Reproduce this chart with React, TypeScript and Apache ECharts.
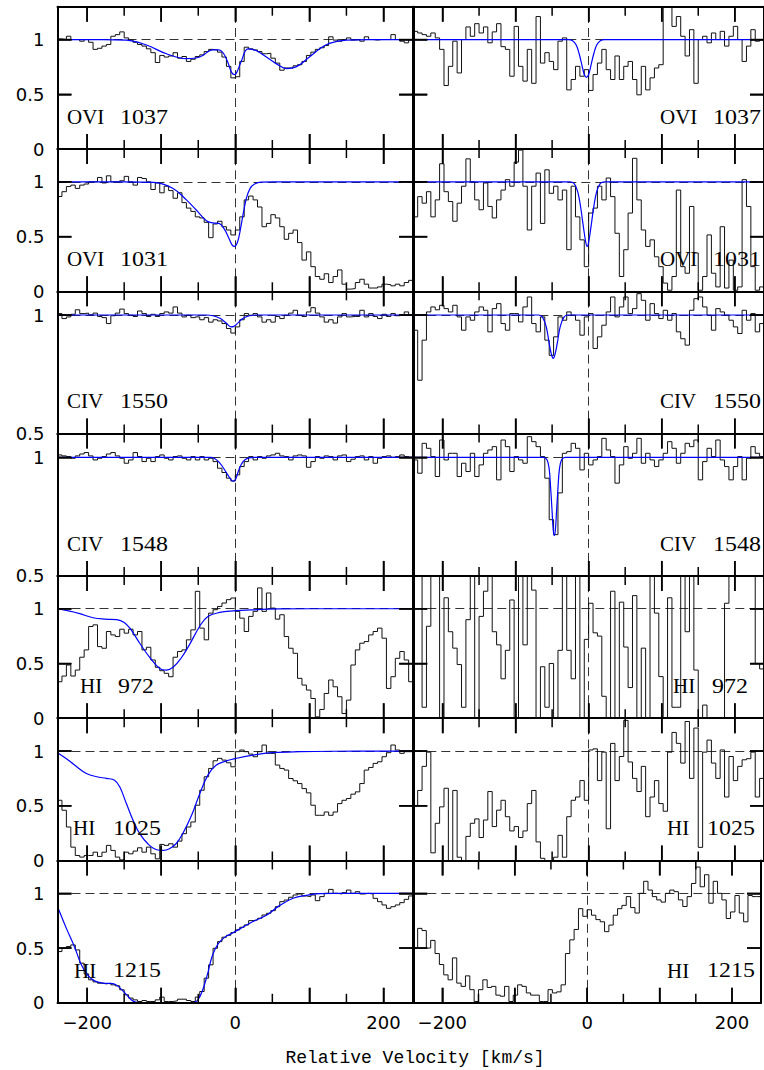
import React, { useEffect, useRef } from 'react';
import * as echarts from 'echarts';

// ---------- data (normalised flux, 6 km/s bins starting at -240 km/s) ----------
const BIN_START = -240;
const BIN_WIDTH = 6;
const X_MIN = -240;
const X_MAX = 240;
const X_TICKS = [-200, -150, -100, -50, 0, 50, 100, 150, 200];
const Y_TICKS = [0.5, 1];

const ovi1037Left = [1.006,1.0,1.03,1.0,1.0,0.985,1.0,0.975,0.91,0.92,0.94,0.955,1.03,1.045,1.07,1.015,0.995,0.975,0.955,0.94,0.915,0.88,0.79,0.855,0.84,0.85,0.88,0.83,0.845,0.80,0.82,0.845,0.86,0.89,0.91,0.905,0.885,0.84,0.755,0.65,0.66,0.80,0.93,0.915,0.905,0.89,0.87,0.875,0.83,0.785,0.72,0.74,0.74,0.76,0.77,0.80,0.855,0.885,0.91,0.925,0.945,1.025,0.995,0.985,1.0,1.015,0.995,1.0,0.985,1.025,1.0,0.995,1.0,1.0,1.0,1.045,1.0,0.985,0.97,1.0];
const ovi1037Right = [1.075,1.06,1.045,1.03,1.06,1.015,0.91,0.58,0.755,0.985,0.695,1.0,1.115,1.03,1.145,1.06,1.115,0.97,1.07,1.145,0.935,0.91,0.665,1.12,0.755,0.62,0.91,0.60,1.21,0.785,0.88,0.80,0.725,0.985,1.015,0.54,0.635,0.755,0.665,0.725,0.535,0.68,0.785,0.91,0.725,0.635,0.85,0.635,0.755,0.80,0.635,0.495,0.755,0.54,0.65,0.74,0.77,1.4,1.45,1.12,1.21,1.03,0.85,1.09,0.60,1.0,1.03,0.97,1.06,1.0,1.075,0.94,1.03,1.12,1.0,0.80,0.94,1.09,0.985,1.0];
const ovi1031Left = [0.866,0.91,0.957,0.97,0.94,0.97,0.98,1.0,1.0,1.04,0.99,1.055,1.0,1.0,1.01,1.05,1.0,0.97,1.04,1.03,1.0,0.93,0.99,0.9,0.96,0.92,0.85,0.9,0.81,0.76,0.73,0.68,0.67,0.63,0.49,0.615,0.64,0.59,0.56,0.515,0.56,0.68,0.835,0.87,0.835,0.77,0.59,0.62,0.70,0.67,0.59,0.475,0.53,0.56,0.445,0.285,0.36,0.225,0.135,0.11,0.16,0.08,0.135,0.195,0.065,0.02,0.025,0.08,0.11,0.065,0.03,0.03,0.04,0.065,0.06,0.05,0.065,0.05,0.08,0.10];
const ovi1031Right = [0.68,0.865,0.805,0.91,0.68,0.835,1.165,0.91,0.82,0.64,0.805,0.96,1.21,1.0,0.835,0.745,0.99,0.775,0.67,0.835,0.925,1.02,0.96,1.18,1.29,0.96,0.56,0.96,1.08,0.62,1.11,0.895,0.96,0.835,0.925,0.38,0.96,0.68,0.47,0.225,0.715,0.76,0.96,0.835,1.035,0.865,0.53,0.135,0.38,0.715,1.215,0.835,0.56,0.41,0.47,0.315,0.225,0.075,0.01,0.135,0.925,0.225,0.165,0.775,0.35,0.01,0.135,0.515,0.165,0.04,0.59,0.03,0.285,0.01,0.04,1.02,0.775,0.225,0.01,0.04];
const civ1550Left = [1.006,0.985,0.992,1.003,1.022,1.006,1.008,1.001,1.008,0.994,0.989,0.964,0.997,1.008,1.025,1.006,0.999,0.994,1.017,1.006,0.994,1.003,0.994,1.006,1.013,1.008,1.034,1.008,0.992,0.999,0.989,0.992,0.98,0.989,0.97,0.98,0.975,0.964,0.943,0.924,0.95,0.98,1.006,0.999,1.006,0.992,0.97,0.98,0.97,0.994,0.985,0.999,1.008,1.02,0.999,0.994,1.013,1.031,1.008,0.992,0.97,0.98,0.966,0.992,1.006,0.992,0.994,0.994,1.02,0.992,1.006,0.994,0.985,1.003,0.994,1.006,0.997,1.001,1.013,0.999];
const civ1550Right = [0.936,0.725,0.894,1.013,1.034,1.022,1.041,1.027,1.013,1.041,0.992,0.936,0.992,0.978,1.013,1.034,1.02,0.929,1.027,1.048,0.964,0.936,1.006,1.006,0.971,1.034,1.076,0.964,0.929,0.992,0.894,0.83,0.908,0.992,0.978,1.013,0.999,0.978,0.915,0.992,1.006,0.859,0.908,0.957,1.013,1.076,0.992,1.034,1.076,1.006,1.027,1.09,1.062,0.978,1.048,1.006,0.985,1.02,0.978,1.006,0.929,0.90,0.873,1.02,1.069,1.076,1.034,0.999,0.936,1.027,1.013,0.999,0.978,0.95,0.922,1.02,0.978,1.006,0.929,0.964];
const civ1548Left = [1.01,1.006,1.003,0.996,1.006,1.014,1.02,1.006,0.989,0.996,1.003,1.014,1.02,1.006,0.996,0.975,0.989,1.02,1.003,0.982,0.996,0.982,1.003,1.01,0.996,0.989,1.003,1.006,0.996,0.989,1.003,0.989,1.003,0.989,0.996,0.982,0.954,0.936,0.912,0.90,0.926,0.961,0.982,1.003,0.989,1.003,0.996,1.006,1.01,1.017,1.006,1.003,0.989,1.006,1.01,1.006,0.958,0.982,1.003,0.996,1.006,1.003,0.989,1.006,1.01,0.982,0.992,1.003,1.006,0.989,1.003,0.975,0.996,1.003,1.006,1.0,1.003,1.01,1.003,1.0];
const civ1548Right = [0.989,0.933,1.059,1.038,1.003,0.919,1.073,0.989,1.017,1.017,0.919,0.975,0.94,1.017,0.919,0.968,1.017,1.031,1.045,0.905,1.073,1.045,0.94,1.003,0.989,0.975,1.087,1.066,1.045,1.003,0.912,0.737,0.674,0.85,1.017,1.024,1.059,1.038,0.947,1.017,0.968,0.989,1.003,1.08,1.031,1.003,0.891,0.968,1.045,0.996,1.017,1.08,0.975,1.017,0.989,0.961,0.989,1.017,1.066,1.038,0.975,1.017,1.059,1.045,1.073,0.905,0.982,1.038,1.003,1.073,0.989,0.961,0.905,0.961,1.003,0.905,0.996,1.045,1.017,1.003];
const hi972Left = [0.333,0.385,0.486,0.385,0.44,0.557,0.624,0.838,0.853,0.654,0.639,0.792,0.761,0.746,0.813,0.777,0.813,0.761,0.792,0.624,0.648,0.532,0.465,0.434,0.41,0.379,0.557,0.609,0.624,0.716,0.807,1.159,0.823,0.716,0.96,0.991,1.021,1.052,1.083,1.098,0.976,0.914,0.792,0.93,0.976,1.19,0.976,1.144,1.006,0.905,0.945,0.746,0.639,0.593,0.364,0.303,0.257,0.18,0.012,0.08,0.226,0.349,0.287,0.196,0.043,0.165,0.486,0.624,0.685,0.70,0.761,0.792,0.823,0.731,0.272,0.379,0.547,0.609,0.532,0.333];
const hi972Right = [1.4,1.4,0.10,0.84,1.4,1.4,0.0,1.10,0.79,0.64,0.49,0.10,0.90,1.4,0.0,0.93,1.16,1.4,0.79,0.67,0.36,0.62,1.08,0.0,1.4,0.67,1.4,1.17,0.0,0.47,0.10,0.50,0.0,0.62,1.4,0.62,0.36,1.4,0.0,0.72,1.05,0.78,0.75,0.2,0.0,1.16,0.0,1.06,0.65,0.28,1.12,0.0,0.64,0.0,1.4,0.96,0.38,0.0,1.1,0.10,0.10,1.3,0.79,1.4,0.44,0.0,0.12,0.0,0.0,0.0,0.0,1.05,1.4,1.4,1.4,1.38,1.4,1.4,0.5,0.45];
const hi1025Left = [0.55,0.459,0.306,0.122,0.046,0.031,0.046,0.046,0.076,0.037,0.076,0.138,0.092,0.031,0.006,0.076,0.061,0.086,0.116,0.076,0.122,0.061,0.015,0.147,0.138,0.153,0.122,0.177,0.245,0.306,0.352,0.505,0.642,0.765,0.841,0.911,0.933,0.917,0.893,0.856,0.994,1.009,0.994,0.972,0.948,0.994,1.055,0.979,0.979,0.872,0.841,0.826,0.749,0.728,0.703,0.657,0.618,0.505,0.413,0.413,0.443,0.413,0.443,0.52,0.55,0.566,0.606,0.627,0.703,0.826,0.85,0.887,0.902,0.948,0.985,1.055,1.009,0.979,0.994,0.994];
const hi1025Right = [0.50,0.64,0.86,0.99,0.07,0.34,0.49,0.66,0.0,0.64,0.03,0.0,0.22,0.34,0.38,0.21,0.37,0.63,0.31,0.46,0.55,0.40,0.27,0.31,0.21,0.27,0.52,0.64,0.17,0.02,0.0,0.0,0.03,0.23,0.03,0.40,0.55,0.58,0.73,0.55,1.01,1.02,0.73,0.99,0.29,1.07,0.73,0.95,1.28,0.90,0.75,0.63,0.86,0.40,0.58,0.73,0.52,0.45,0.99,1.17,1.07,0.89,1.27,0.75,1.21,0.12,0.99,1.10,0.89,0.75,1.01,0.58,0.95,0.73,0.86,0.92,0.93,0.99,0.58,0.75];
const hi1215Left = [0.468,0.498,0.514,0.529,0.483,0.362,0.264,0.21,0.191,0.179,0.173,0.179,0.164,0.155,0.119,0.073,0.043,0.027,0.012,0.021,0.012,0.012,0.027,0.052,0.012,0.012,0.018,0.033,0.033,0.021,0.012,0.052,0.103,0.225,0.347,0.498,0.559,0.599,0.617,0.641,0.666,0.69,0.711,0.751,0.757,0.772,0.802,0.818,0.842,0.878,0.924,0.939,0.964,0.985,0.994,0.976,0.97,0.985,0.933,0.97,1.0,1.036,1.0,0.994,1.006,1.03,1.0,1.015,0.994,1.0,0.994,0.954,0.924,0.894,0.863,0.878,0.894,0.915,0.945,0.976];
const hi1215Right = [0.50,0.68,0.66,0.50,0.57,0.45,0.35,0.255,0.21,0.41,0.18,0.15,0.246,0.12,0.012,0.12,0.21,0.14,0.15,0.07,0.06,0.15,0.012,0.07,0.164,0.15,0.09,0.07,0.07,0.012,0.012,0.12,0.09,0.10,0.164,0.45,0.575,0.67,0.86,0.79,0.85,0.80,0.76,0.74,0.65,0.71,0.80,0.86,0.89,0.97,0.87,0.82,1.0,1.11,1.03,0.97,0.94,0.92,1.0,1.03,1.015,0.94,0.88,0.97,1.09,1.24,1.06,1.17,0.91,1.11,1.0,0.94,0.77,0.83,0.98,0.82,0.74,0.98,0.97,0.97];

// ---------- model fits [velocity, flux] ----------
const fitOvi1037Left = [[-240,1],[-180,1],[-147,0.995],[-120,0.95],[-93,0.87],[-66,0.825],[-48,0.84],[-30,0.905],[-22,0.905],[-16,0.875],[-10,0.79],[-5,0.7],[-1,0.68],[2,0.7],[8,0.8],[17,0.915],[28,0.9],[42,0.84],[55,0.78],[69,0.735],[82,0.75],[100,0.84],[114,0.915],[127,0.965],[150,0.995],[180,1],[240,1]];
const fitOvi1037Right = [[-240,1],[-28,1],[-22,0.99],[-17,0.95],[-13,0.87],[-9,0.76],[-6,0.68],[-3,0.655],[0,0.68],[3,0.76],[7,0.87],[11,0.95],[16,0.99],[22,1],[240,1]];
const fitOvi1031Left = [[-240,1],[-150,1],[-110,0.995],[-84,0.94],[-66,0.835],[-53,0.745],[-39,0.645],[-30,0.625],[-22,0.62],[-15,0.57],[-9,0.49],[-4,0.42],[-1,0.41],[3,0.45],[7,0.57],[11,0.72],[15,0.85],[20,0.94],[26,0.98],[35,0.998],[51,1],[240,1]];
const fitOvi1031Right = [[-240,1],[-26,1],[-20,0.985],[-15,0.91],[-11,0.77],[-7,0.58],[-4,0.45],[-2,0.41],[0,0.45],[3,0.58],[7,0.77],[11,0.91],[16,0.985],[22,1],[240,1]];
const fitCiv1550Left = [[-240,1],[-40,1],[-30,0.997],[-20,0.985],[-12,0.965],[-6,0.95],[-2,0.952],[4,0.968],[10,0.985],[18,0.996],[28,1],[240,1]];
const fitCiv1550Right = [[-240,1],[-68,1],[-63,0.99],[-58,0.95],[-54,0.88],[-51,0.835],[-48.5,0.817],[-46,0.835],[-43,0.88],[-39,0.95],[-34,0.99],[-29,1],[240,1]];
const fitCiv1548Left = [[-240,1],[-33,1],[-28,0.995],[-22,0.98],[-16,0.955],[-10,0.925],[-5,0.903],[-2,0.9],[1,0.912],[4,0.94],[8,0.97],[13,0.99],[20,0.999],[28,1],[240,1]];
const fitCiv1548Right = [[-240,1],[-62,1],[-57,0.99],[-54,0.95],[-52,0.87],[-50,0.77],[-48.5,0.695],[-47,0.67],[-45.5,0.695],[-44,0.77],[-42,0.87],[-40,0.95],[-37,0.99],[-32,1],[240,1]];
const fitHi972Left = [[-240,1],[-225,0.98],[-210,0.955],[-192,0.918],[-175,0.905],[-160,0.9],[-150,0.875],[-142,0.82],[-129,0.685],[-115,0.55],[-102,0.455],[-93,0.44],[-84,0.465],[-73,0.55],[-62,0.67],[-48,0.84],[-37,0.93],[-21,0.966],[-3,0.98],[24,0.99],[60,0.998],[100,1],[240,1]];
const fitHi1025Left = [[-240,0.985],[-228,0.93],[-214,0.856],[-201,0.795],[-187,0.765],[-174,0.75],[-163,0.734],[-156,0.673],[-147,0.52],[-138,0.367],[-129,0.245],[-118,0.153],[-106,0.098],[-97,0.092],[-89,0.107],[-80,0.153],[-71,0.245],[-59,0.413],[-48,0.61],[-37,0.78],[-26,0.87],[-12,0.91],[1,0.933],[24,0.963],[51,0.985],[87,0.994],[132,0.998],[240,1]];
const fitHi1215Left = [[-240,0.88],[-228,0.68],[-217,0.51],[-208,0.35],[-199,0.25],[-190,0.2],[-178,0.18],[-165,0.175],[-158,0.15],[-147,0.075],[-138,0.015],[-125,0],[-60,0],[-52,0.015],[-45,0.1],[-38,0.25],[-31,0.43],[-23,0.54],[-14,0.6],[-3,0.64],[10,0.69],[24,0.742],[42,0.8],[60,0.89],[78,0.955],[96,0.982],[114,0.997],[132,1],[240,1]];

const ions = ['OVI', 'OVI', 'CIV', 'CIV', 'HI', 'HI', 'HI'];
const wavelengths = ['1037', '1031', '1550', '1548', '972', '1025', '1215'];
const yMins = [0, 0, 0.5, 0.5, 0, 0, 0];
const yMaxs = [1.3, 1.3, 1.1, 1.1, 1.3, 1.3, 1.3];
const leftSpectra = [ovi1037Left, ovi1031Left, civ1550Left, civ1548Left, hi972Left, hi1025Left, hi1215Left];
const rightSpectra = [ovi1037Right, ovi1031Right, civ1550Right, civ1548Right, hi972Right, hi1025Right, hi1215Right];
const leftFits = [fitOvi1037Left, fitOvi1031Left, fitCiv1550Left, fitCiv1548Left, fitHi972Left, fitHi1025Left, fitHi1215Left];
const rightFits = [fitOvi1037Right, fitOvi1031Right, fitCiv1550Right, fitCiv1548Right, null, null, null];

// ---------- layout (pixels) ----------
const ROW_TOP0 = 6.7;
const ROW_H = 142.3;
const COL_LEFT = [57.5, 413.3];
const COL_W = 355.6;
const MAJOR_TICK = 15;
const MINOR_TICK = 9;
const Y_TICK = 14;
// [ion x, wavelength x] for left and right panels
const LABEL_X = [
  [67, 120, 660, 713],
  [67, 120, 660, 713],
  [67, 120, 660, 713],
  [67, 120, 660, 713],
  [80, 118, 673, 712],
  [73, 113, 667, 707],
  [74, 113, 667, 707],
];

function histData(values: number[]) {
  const d: number[][] = values.map((v, i) => [BIN_START + BIN_WIDTH * i, v]);
  d.push([BIN_START + BIN_WIDTH * values.length, values[values.length - 1]]);
  return d;
}

type PanelRef = { xb: number; yl: number; r: number };

function buildOption(panels: PanelRef[]) {
  const grid: any[] = [];
  const xAxis: any[] = [];
  const yAxis: any[] = [];
  const series: any[] = [];
  const nRows = ions.length;
  const frameLine = { show: true, onZero: false, lineStyle: { color: '#000', width: 2 } };

  for (let r = 0; r < nRows; r++) {
    const top = ROW_TOP0 + r * ROW_H;
    for (let c = 0; c < 2; c++) {
      const gi = grid.length;
      grid.push({ left: COL_LEFT[c], top, width: COL_W, height: ROW_H, show: false });
      const isBottom = r === nRows - 1;
      const mkX = (pos: string, labels: boolean) => ({
        type: 'value', gridIndex: gi, position: pos, min: X_MIN, max: X_MAX, z: 6,
        splitNumber: 5, minInterval: 100, maxInterval: 100,
        axisLine: frameLine,
        axisTick: { show: true, inside: true, length: MAJOR_TICK, lineStyle: { color: '#000', width: 1.5 } },
        axisLabel: labels ? {
          show: true, margin: 11, color: '#000', fontSize: 18, fontFamily: 'DejaVu Sans',
          formatter: (v: number) => (Math.round(v) % 200 === 0 ? (v < 0 ? '\u2212' + (-v) : String(Math.abs(v))) : ''),
        } : { show: false },
        splitLine: { show: false },
      });
      const xb = xAxis.length;
      xAxis.push(mkX('bottom', isBottom), mkX('top', false));

      const mkY = (pos: string, labels: boolean) => ({
        type: 'value', gridIndex: gi, position: pos, min: yMins[r], max: yMaxs[r], interval: 0.5, z: 6,
        axisLine: frameLine,
        axisTick: { show: true, inside: true, length: Y_TICK, lineStyle: { color: '#000', width: 1.5 } },
        axisLabel: labels ? {
          show: true, margin: 13, color: '#000', fontSize: 18, fontFamily: 'DejaVu Sans',
          formatter: (v: number) => (Math.abs(v * 2 - Math.round(v * 2)) < 1e-6 ? String(Math.round(v * 2) / 2) : ''),
        } : { show: false },
        splitLine: { show: false },
      });
      const yl = yAxis.length;
      yAxis.push(mkY('left', c === 0), mkY('right', false));
      panels.push({ xb, yl, r });

      const spectrum = c === 0 ? leftSpectra[r] : rightSpectra[r];
      series.push({
        type: 'line', xAxisIndex: xb, yAxisIndex: yl, data: histData(spectrum), step: 'end',
        symbol: 'none', showSymbol: false, silent: true, clip: true, z: 3,
        lineStyle: { color: '#111', width: 1 },
        markLine: {
          silent: true, symbol: 'none', z: 1, animation: false,
          label: { show: false },
          lineStyle: { color: '#333', width: 1, type: [9, 5] },
          emphasis: { disabled: true },
          data: [{ yAxis: 1 }, { xAxis: 0 }],
        },
      });
      const fit = c === 0 ? leftFits[r] : rightFits[r];
      if (fit) {
        series.push({
          type: 'line', xAxisIndex: xb, yAxisIndex: yl, data: fit, smooth: 0.4,
          symbol: 'none', showSymbol: false, silent: true, clip: true, z: 4,
          lineStyle: { color: '#0000ff', width: 1.2 },
        });
      }
    }
  }

  return {
    animation: false,
    backgroundColor: '#fff',
    grid, xAxis, yAxis, series,
  };
}

// Tick marks and panel texts, positioned through the chart's own axis scales.
function buildGraphics(chart: any, panels: PanelRef[]) {
  const g: any[] = [];
  const line = (x1: number, y1: number, x2: number, y2: number) => ({
    type: 'line', silent: true, z: 50,
    shape: { x1, y1, x2, y2 },
    style: { stroke: '#000', lineWidth: 1.5 },
  });
  panels.forEach((p, i) => {
    const finder = { xAxisIndex: p.xb, yAxisIndex: p.yl };
    const yMin = yMins[p.r];
    const yMax = yMaxs[p.r];
    X_TICKS.forEach((v) => {
      const b = chart.convertToPixel(finder, [v, yMin]);
      const t = chart.convertToPixel(finder, [v, yMax]);
      const len = Math.abs(v) % 100 === 0 ? MAJOR_TICK : MINOR_TICK;
      g.push(line(b[0], b[1], b[0], b[1] - len));
      g.push(line(t[0], t[1], t[0], t[1] + len));
    });
    Y_TICKS.filter((tv) => tv > yMin && tv < yMax).forEach((tv) => {
      const l = chart.convertToPixel(finder, [X_MIN, tv]);
      const rr = chart.convertToPixel(finder, [X_MAX, tv]);
      g.push(line(l[0], l[1], l[0] + Y_TICK, l[1]));
      g.push(line(rr[0], rr[1], rr[0] - Y_TICK, rr[1]));
    });
    const c = i % 2;
    const top = ROW_TOP0 + p.r * ROW_H;
    g.push({
      type: 'text', x: LABEL_X[p.r][c * 2], y: top + 110, z: 60, silent: true,
      style: { text: ions[p.r], font: '21px "Liberation Serif"', fill: '#000', align: 'left', verticalAlign: 'middle' },
    });
    g.push({
      type: 'text', x: LABEL_X[p.r][c * 2 + 1], y: top + 110, z: 60, silent: true, scaleX: 1.14,
      style: { text: wavelengths[p.r], font: '21px "Liberation Serif"', fill: '#000', align: 'left', verticalAlign: 'middle' },
    });
  });
  g.push({
    type: 'text', x: 415, y: 1058, z: 60, silent: true,
    style: { text: 'Relative Velocity [km/s]', font: '18px "Liberation Mono"', fill: '#000', align: 'center', verticalAlign: 'middle' },
  });
  return g;
}

export default function App() {
  const ref = useRef<HTMLDivElement>(null);
  useEffect(() => {
    if (!ref.current) return;
    const chart = echarts.init(ref.current, null, { renderer: 'svg' });
    const panels: PanelRef[] = [];
    chart.setOption(buildOption(panels) as any);
    chart.setOption({ graphic: buildGraphics(chart, panels) } as any);
    return () => chart.dispose();
  }, []);
  return (
    <div
      ref={ref}
      style={{ position: 'absolute', left: 0, top: 0, width: 764, height: 1070, background: '#fff' }}
    />
  );
}
